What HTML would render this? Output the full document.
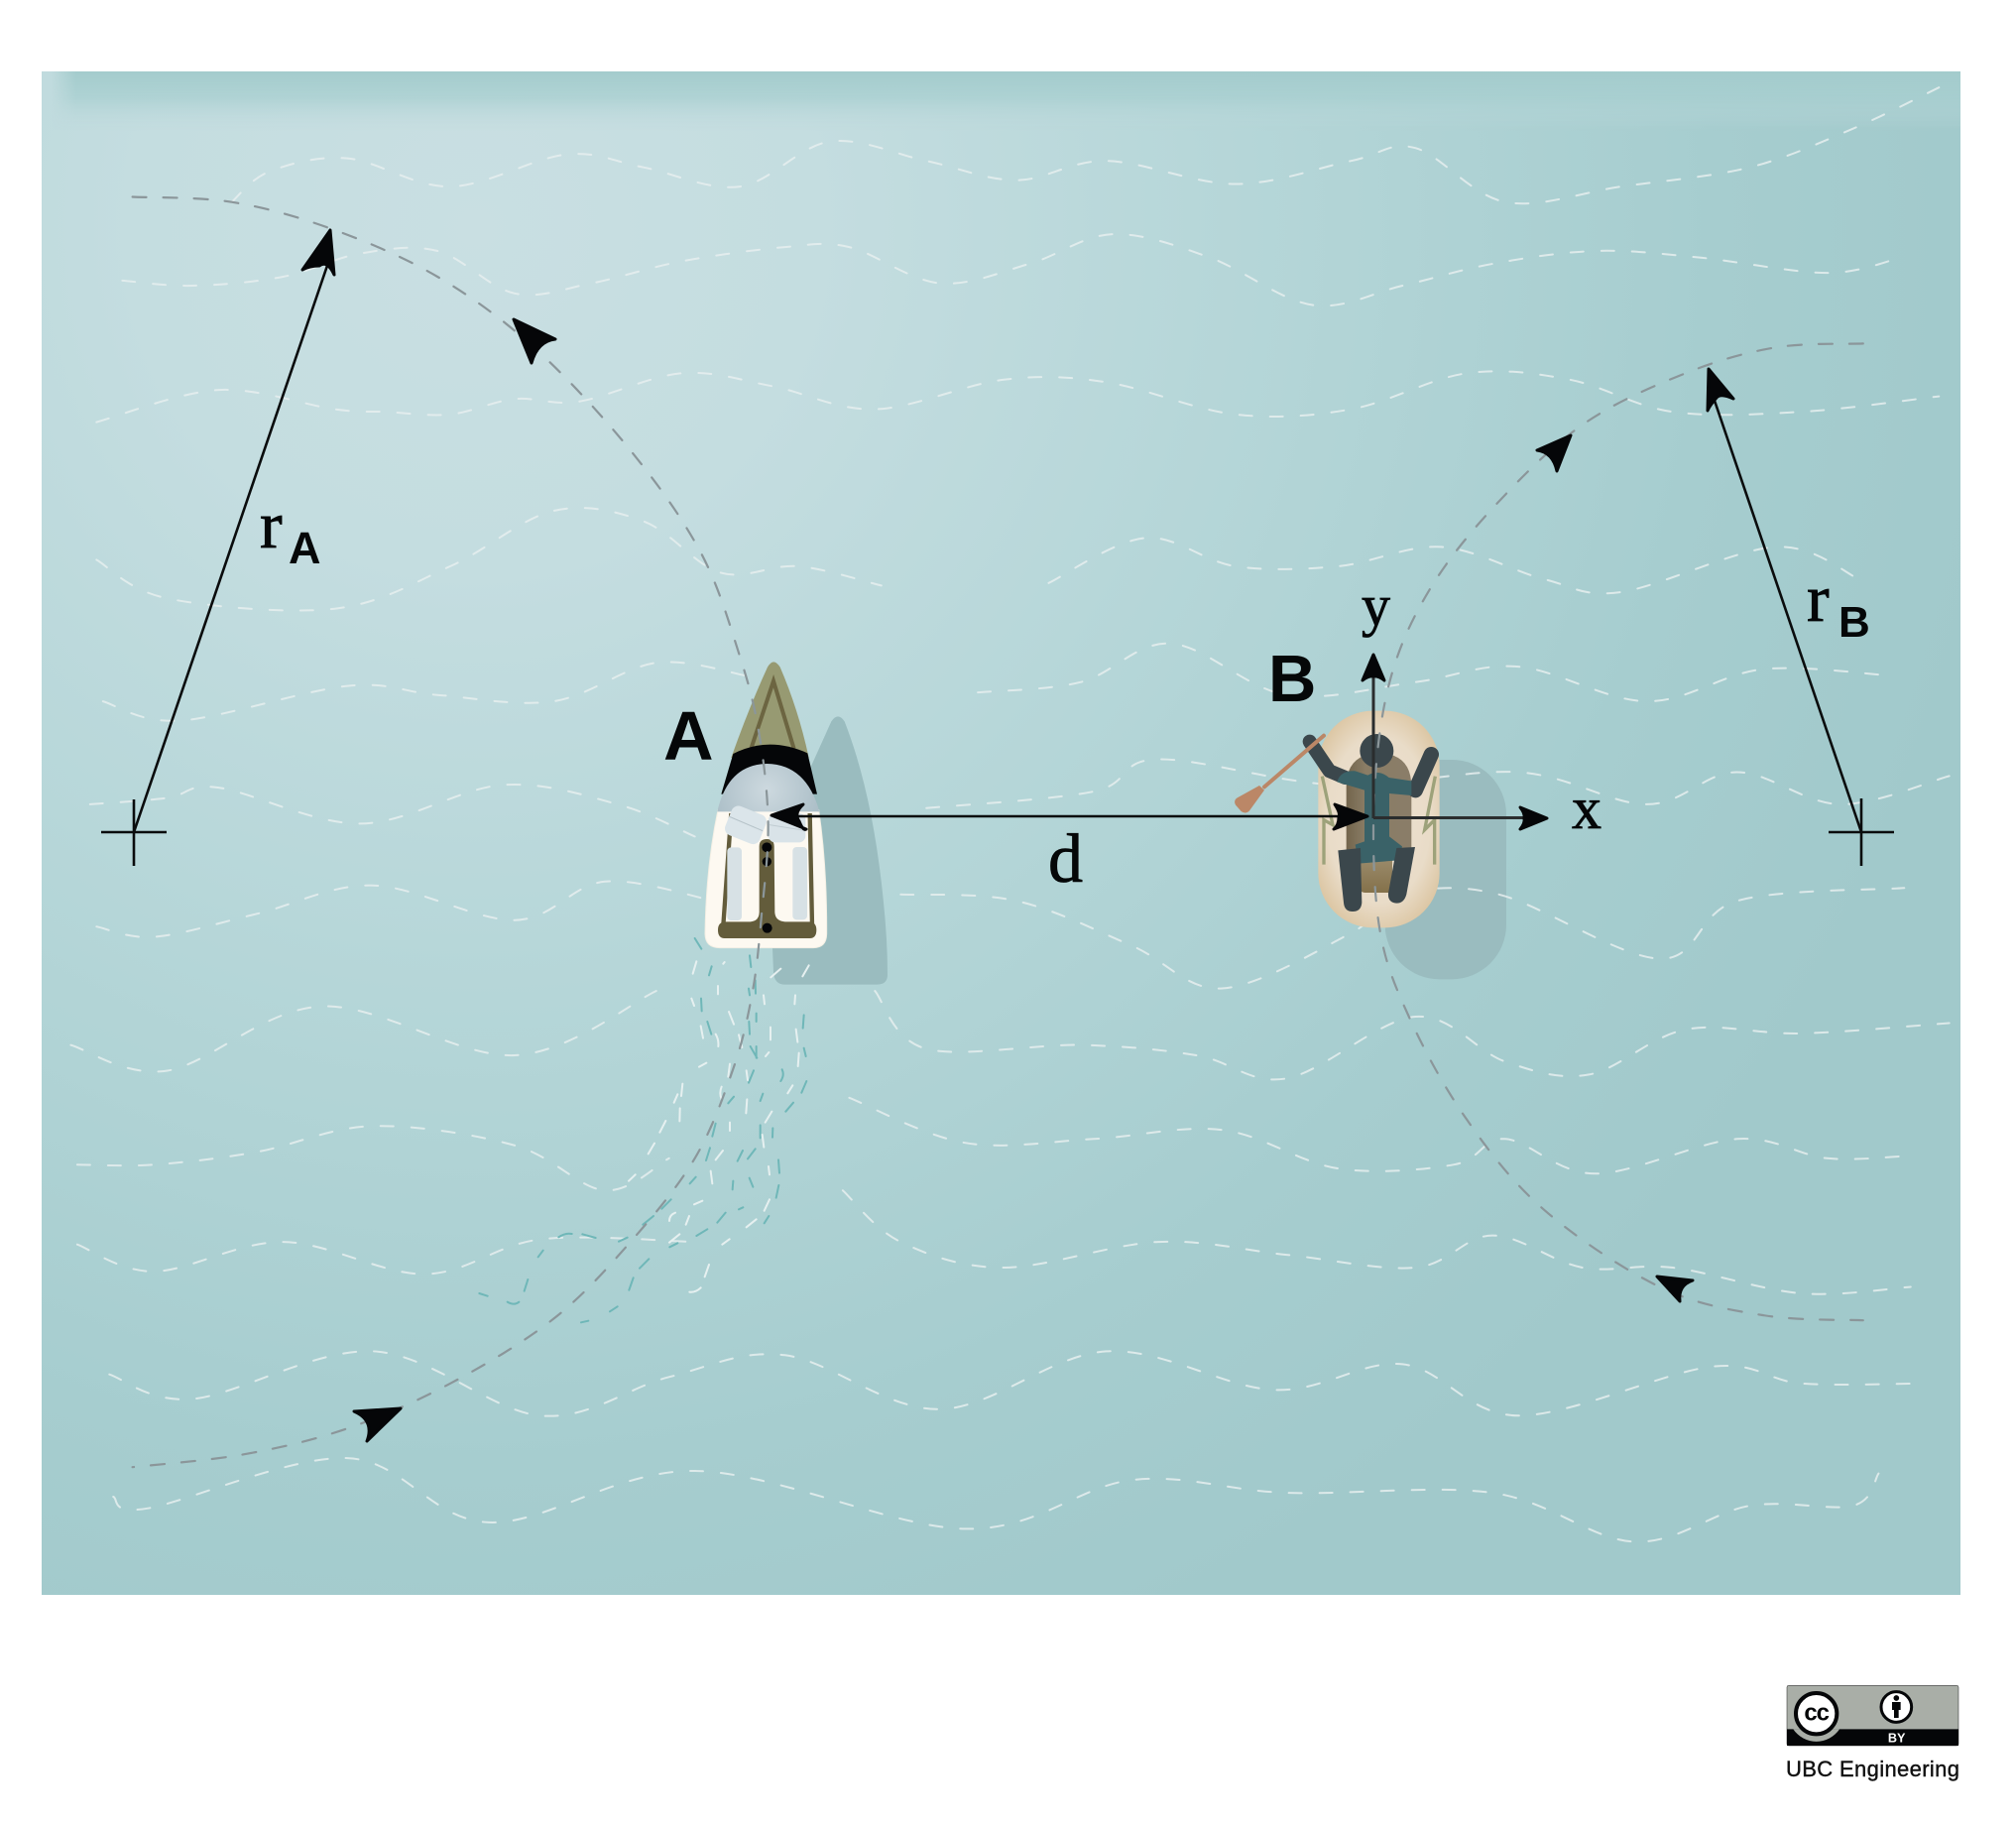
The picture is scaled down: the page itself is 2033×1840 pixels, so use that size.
<!DOCTYPE html>
<html lang="en">
<head>
<meta charset="utf-8">
<title>Two boats turning: relative motion diagram</title>
<style>
html,body{margin:0;padding:0;background:#fff}
svg{display:block}
.serif{font-family:"Liberation Serif",serif;fill:#050708;stroke:#050708;stroke-width:.8}
.sans{font-family:"Liberation Sans",sans-serif;fill:#050708;font-weight:bold}
</style>
</head>
<body>
<svg xmlns="http://www.w3.org/2000/svg" width="2033" height="1840" viewBox="0 0 2033 1840">
<defs>
<radialGradient id="seaGrad" gradientUnits="userSpaceOnUse" cx="480" cy="230" r="1560">
<stop offset="0" stop-color="#c9dfe2"/><stop offset=".22" stop-color="#c4dde0"/><stop offset=".5" stop-color="#b5d6d8"/><stop offset=".8" stop-color="#a6cdcf"/><stop offset="1" stop-color="#a1c9cb"/>
</radialGradient>
<linearGradient id="topGrad" x1="0" y1="0" x2="0" y2="1">
<stop offset="0" stop-color="#a3cbcc" stop-opacity="1"/><stop offset=".45" stop-color="#a8cfd0" stop-opacity=".75"/><stop offset="1" stop-color="#c0dadd" stop-opacity="0"/>
</linearGradient>
<linearGradient id="topFade" x1="0" y1="0" x2="1" y2="0">
<stop offset="0" stop-color="#000"/><stop offset=".005" stop-color="#000"/><stop offset=".018" stop-color="#fff"/><stop offset="1" stop-color="#fff"/>
</linearGradient>
<mask id="topMask"><rect x="42" y="72" width="1935" height="60" fill="url(#topFade)"/></mask>
<radialGradient id="domeGrad" gradientUnits="userSpaceOnUse" cx="370" cy="470" r="170">
<stop offset="0" stop-color="#cdd9df"/><stop offset="1" stop-color="#abbec7"/>
</radialGradient>
<radialGradient id="hullBGrad" gradientUnits="userSpaceOnUse" cx="512" cy="738" r="360" gradientTransform="translate(512 738) scale(.62 1) translate(-512 -738)">
<stop offset="0" stop-color="#ede1d1"/><stop offset=".7" stop-color="#e9dcc8"/><stop offset="1" stop-color="#dcc6a3"/>
</radialGradient>
<linearGradient id="innerBGrad" x1="0" y1="0" x2="1" y2="0">
<stop offset="0" stop-color="#73654c"/><stop offset=".3" stop-color="#8a7d66"/><stop offset="1" stop-color="#8a7d68"/>
</linearGradient>
<linearGradient id="footGrad" x1="0" y1="0" x2="0" y2="1">
<stop offset="0" stop-color="#9a8a6a"/><stop offset="1" stop-color="#84714a"/>
</linearGradient>
</defs>

<rect x="0" y="0" width="2033" height="1840" fill="#ffffff"/>
<rect x="42" y="72" width="1935" height="1536" fill="url(#seaGrad)"/>
<rect x="42" y="72" width="1935" height="60" fill="url(#topGrad)" mask="url(#topMask)"/>

<!-- boat shadows -->
<g transform="translate(650 640) scale(.33333)">
<path d="M565,262 Q585,232 605,262 Q690,480 722,800 Q735,920 735,1028 Q735,1058 703,1058 L425,1058 Q392,1058 390,1020 L385,900 L505,395 Z" fill="#9abcbf"/>
</g>
<g transform="translate(1220 580) scale(.33333)">
<rect x="530" y="558" width="367" height="664" rx="165" ry="165" fill="#9abcbf"/>
</g>

<g id="waves" fill="none" stroke="#e6efef" stroke-opacity=".85" stroke-width="2" stroke-dasharray="13 18" stroke-linecap="round"></g>

<!-- wake behind boat A -->
<g transform="translate(450 940) scale(.33333)" fill="none" stroke-linecap="round">
<path stroke="#6fb7b8" stroke-width="6" d="M752,18L772,50M803,103L795,130M918,70L922,105M935,145L936,185M915,170L918,190M771,200L773,238M790,270L802,308M938,245L938,270M916,270L918,308M920,345L940,380M938,345L938,380M930,418L915,455M1016,415Q1024,432 1012,450M958,488L950,510M870,497L853,517M1090,450L1075,485M1050,515L1027,542M1082,250L1079,290M1082,350L1088,375M815,578L805,617M950,583L950,622M988,592L987,620M798,652L786,690M897,660L881,692M935,655L912,685M1005,688L1008,728M755,740L737,760M868,752L866,778M917,743L928,770M1006,765L998,803M680,808L652,836M627,858L595,884M845,848L820,878M898,832L885,838M976,858L962,880M790,898L757,918M548,923L522,935M700,940L676,952M452,924L412,913M380,912Q360,908 340,922M293,962L278,982M613,988L585,1016M247,1050L236,1085M566,1045L553,1082M125,1100L100,1092M220,1118Q205,1130 185,1118M518,1132L495,1147M430,1175L408,1180"/>
<path stroke="#e6f0f0" stroke-width="6" d="M757,88L746,125M842,90L838,95M822,162L822,187M742,200L750,222M960,190L963,217M1056,190L1054,217M855,240L870,278M770,283L777,320M815,308Q825,325 823,345M885,310L895,348M981,287L981,325M1058,293L1063,332M1067,365L1064,405M976,363L966,375M787,395L765,407M858,398L853,437M908,418L912,447M715,458L711,495M700,490L689,515M833,467Q825,487 833,505M910,505L907,547M1048,463L1033,487M707,532L706,571M985,542L965,575M664,570L646,605M858,575L858,600M956,612L961,650M630,638L611,670M837,660L815,688M975,708L978,733M800,722L805,760M572,733L552,752M775,812L750,823M693,848Q675,855 675,873M735,858L725,884M978,808L962,842M938,868L908,892M706,913L675,938M857,928L835,944M795,1005L782,1042M770,1075Q755,1090 736,1088M1012,110L982,136M1097,100L1078,133"/>
</g>

<!-- Boat A -->
<g transform="translate(650 640) scale(.33333)">
<path d="M222,530 L527,530 Q552,700 551,905 Q550,947 510,947 L228,947 Q184,947 183,905 Q186,700 222,530 Z" fill="#fdf9f1" stroke="#f3efe4" stroke-width="3"/>
<path d="M372,98 Q390,66 410,98 Q465,225 497,372 L262,372 Q315,222 372,98 Z" fill="#979a72"/>
<path d="M322,345 L390,140 L452,345" fill="none" stroke="#6c6541" stroke-width="12"/>
<path d="M268,360 Q375,305 493,358 L522,482 L232,482 Z" fill="#050608"/>
<path d="M220,535 Q252,392 370,390 Q490,392 529,535 Z" fill="url(#domeGrad)"/>
<path d="M262,540 L238,880 M500,540 L507,880" fill="none" stroke="#635c3b" stroke-width="13"/>
<rect x="250" y="643" width="44" height="221" rx="12" fill="#d7e1e5"/>
<rect x="448" y="642" width="44" height="220" rx="12" fill="#d7e1e5"/>
<path d="M347,640 Q347,618 370,618 Q392,618 392,640 L394,840 Q396,866 425,868 L500,868 Q520,870 520,893 Q520,918 500,918 L242,918 Q222,918 222,893 Q222,870 242,868 L320,868 Q346,866 347,840 Z" fill="#635c3b"/>
<circle cx="370" cy="643" r="15" fill="#050608"/>
<circle cx="370" cy="686" r="14" fill="#050608"/>
<circle cx="371" cy="887" r="15" fill="#050608"/>
<g transform="rotate(22 305 575)">
<rect x="250" y="528" width="112" height="94" rx="22" fill="#dbe5ea"/>
<path d="M252,570 L360,572" stroke="#b6c3c9" stroke-width="3" fill="none"/>
</g>
<g>
<rect x="375" y="540" width="112" height="88" rx="20" fill="#d9e3e8"/>
<path d="M378,575 L486,592" stroke="#c0ccd2" stroke-width="3" fill="none"/>
</g>
</g>

<!-- Boat B -->
<g transform="translate(1220 580) scale(.33333)">
<rect x="328" y="410" width="367" height="656" rx="165" ry="165" fill="url(#hullBGrad)"/>
<path d="M413,640 Q413,540 512,538 Q610,540 610,640 L610,850 L413,850 Z" fill="url(#innerBGrad)"/>
<path d="M447,860 L552,860 L552,960 L470,960 Q447,958 447,930 Z" fill="url(#footGrad)"/>
<path d="M340,608 L372,755 L345,740 L345,875" fill="none" stroke="#9da27a" stroke-width="10"/>
<path d="M682,608 L650,770 L680,740 L680,875" fill="none" stroke="#9da27a" stroke-width="10"/>
<g>
<circle cx="505" cy="531" r="51" fill="#3b474c"/>
<path d="M302,503 L362,592 L410,612" fill="none" stroke="#3b474c" stroke-width="42" stroke-linecap="round" stroke-linejoin="round"/>
<path d="M670,542 L622,650" fill="none" stroke="#3b474c" stroke-width="46" stroke-linecap="round"/>
<path d="M385,625 Q395,590 440,592 L478,605 Q510,585 542,612 L610,622 L610,666 L543,660 L543,790 L582,820 L570,862 L450,872 L440,815 L468,805 L468,650 Z" fill="#3a6268"/>
<path d="M388,832 L456,825 L460,990 Q458,1017 432,1017 Q407,1017 405,990 Z" fill="#3b474c"/>
<path d="M565,825 L621,822 L595,965 Q588,992 565,992 Q538,990 540,962 Z" fill="#3b474c"/>
</g>
<path d="M345,485 L165,640" stroke="#bb8767" stroke-width="12" fill="none" stroke-linecap="round"/>
<path d="M150,636 L165,650 L120,712 Q108,724 95,714 L78,695 Q70,680 85,672 Z" fill="#bb8767"/>
</g>

<!-- travel paths -->
<g id="travel" fill="none" stroke="#8b969a" stroke-width="2.2" stroke-dasharray="14 17" stroke-linecap="round"></g>

<!-- vectors -->
<g>
<g stroke="#0a0c0d" stroke-width="2.6" fill="none">
<path d="M135,839 L332,262"/>
<path d="M1877,839 L1727,398"/>
<path d="M790,823 L1370,823"/>
<path d="M102,839 L168,839"/>
<path d="M135,806 L135,873"/>
<path d="M1844,839 L1910,839"/>
<path d="M1877,805 L1877,873"/>
<path d="M1385,824.5 L1540,824.5" stroke="#2a2d2e" stroke-width="3"/>
<path d="M1385,825 L1385,680" stroke="#2a2d2e" stroke-width="3"/>
</g>
<g fill="#050608" stroke="#050608" stroke-width="3" stroke-linejoin="round">
<path d="M333,232 L337,277 Q330,262 322,268 Q312,268 305,272 Z"/>
<path d="M1723,372 L1748,402 Q1735,396 1731,401 Q1724,409 1722,414 Z"/>
<path d="M778,822 L810,811 Q800,820 806,828 Q810,838 813,836 Z"/>
<path d="M1379,823 L1346,811 Q1352,820 1350,824 Q1350,832 1345,836 Z"/>
<path d="M1560,825 L1533,814 Q1538,820 1537,825 Q1538,830 1533,836 Z"/>
<path d="M1385,660 L1374,686 Q1380,681 1385,682 Q1390,681 1396,686 Z"/>
<path d="M518,322 L560,342 Q542,344 536,366 Z"/>
<path d="M404,1420 L357,1423 Q378,1432 370,1453 Z"/>
<path d="M1584,439 L1550,454 Q1566,456 1570,475 Z"/>
<path d="M1671,1287 L1707,1291 Q1692,1296 1694,1312 Z"/>
</g>
</g>

<!-- labels -->
<g>
<text class="sans" x="669" y="766" font-size="70">A</text>
<text class="sans" x="1279" y="707" font-size="67">B</text>
<text class="serif" x="1373" y="630" font-size="58">y</text>
<text class="serif" x="1585" y="835" font-size="60">x</text>
<text class="serif" x="1057" y="889" font-size="70">d</text>
<text class="serif" x="262" y="552" font-size="68">r</text>
<text class="sans" x="291" y="568" font-size="45">A</text>
<text class="serif" x="1822" y="626" font-size="68">r</text>
<text class="sans" x="1854" y="642" font-size="44">B</text>
</g>

<!-- license badge -->
<g transform="translate(1780 1680) scale(.33333)">
<rect x="66" y="58" width="519" height="182" rx="5" fill="#a9aea7" stroke="#222" stroke-width="1.5"/>
<path d="M66,190 L585,190 L585,240 L66,240 Z" fill="#050608"/>
<path d="M85,190 A84,84 0 0 0 225,190 Z" fill="#a9aea7"/>
<circle cx="155" cy="143" r="62" fill="#fff" stroke="#050608" stroke-width="12"/>
<text x="155" y="163" text-anchor="middle" font-size="72" font-family="Liberation Sans, sans-serif" font-weight="bold" letter-spacing="-3" fill="#050608">cc</text>
<circle cx="397" cy="123" r="46" fill="#fff" stroke="#050608" stroke-width="9"/>
<circle cx="397" cy="96" r="8.5" fill="#050608"/>
<path d="M384,108 L410,108 L410,132 L404,132 L404,156 L390,156 L390,132 L384,132 Z" fill="#050608"/>
<text x="398" y="230" text-anchor="middle" font-size="38" font-family="Liberation Sans, sans-serif" font-weight="bold" fill="#fff">BY</text>
</g>
<text x="1801" y="1791" font-size="22" font-family="Liberation Sans, sans-serif" fill="#111" stroke="#111" stroke-width=".4" textLength="175" lengthAdjust="spacing">UBC Engineering</text>
</svg>

<script>
var SCALE = 1.2975;
var waveLines = [
 [[180,157],[210,133],[270,123],[350,145],[440,120],[500,130],[575,145],[645,110],[720,125],[790,140],[860,125],[960,143],[1050,125],[1100,115],[1170,157],[1260,145],[1360,130],[1440,100],[1507,68]],
 [[95,218],[150,222],[220,215],[280,197],[340,195],[400,228],[460,220],[530,203],[610,192],[660,192],[730,220],[800,205],[865,182],[940,200],[1020,237],[1090,222],[1160,205],[1240,195],[1320,200],[1420,212],[1478,200]],
 [[75,328],[170,303],[260,318],[300,320],[350,322],[400,310],[450,312],[530,290],[600,300],[680,318],[780,295],[860,297],[960,322],[1050,318],[1140,290],[1220,295],[1300,320],[1400,320],[1507,308]],
 [[75,435],[130,465],[260,473],[350,440],[430,397],[500,405],[560,445],[620,440],[685,455]],
 [[815,453],[890,418],[960,440],[1040,440],[1120,425],[1200,450],[1260,460],[1380,425],[1445,450]],
 [[80,545],[140,560],[270,533],[340,540],[430,545],[510,515],[580,525]],
 [[760,538],[840,530],[910,500],[1000,540],[1100,530],[1180,518],[1280,545],[1370,520],[1470,525]],
 [[70,625],[130,620],[170,612],[280,640],[390,610],[480,625],[540,650]],
 [[720,628],[850,615],[900,590],[1040,610],[1180,600],[1280,625],[1350,600],[1430,625],[1515,603]],
 [[75,720],[120,728],[200,710],[290,688],[400,715],[470,685],[555,700]],
 [[700,695],[790,700],[880,735],[950,768],[1050,725],[1090,695],[1165,695],[1290,745],[1350,700],[1480,690]],
 [[55,812],[130,832],[250,782],[400,820],[510,770]],
 [[680,770],[720,815],[840,812],[930,820],[1000,838],[1100,790],[1170,825],[1235,835],[1310,800],[1400,803],[1515,795]],
 [[60,905],[120,905],[200,895],[290,875],[400,890],[470,925],[520,900]],
 [[660,853],[750,888],[850,885],[950,878],[1040,908],[1130,905],[1170,885],[1240,912],[1350,885],[1420,900],[1485,898]],
 [[60,967],[120,988],[220,965],[330,990],[420,963],[540,965]],
 [[655,925],[700,965],[780,985],[900,965],[1000,975],[1100,985],[1160,960],[1230,985],[1300,985],[1400,1005],[1485,1000]],
 [[85,1068],[150,1087],[290,1050],[420,1100],[520,1070],[610,1053],[730,1095],[860,1050],[990,1080],[1090,1060],[1180,1100],[1330,1062],[1400,1075],[1495,1075]],
 [[88,1163],[115,1172],[270,1133],[380,1183],[540,1143],[750,1188],[880,1150],[1000,1160],[1160,1160],[1270,1198],[1360,1170],[1440,1170],[1460,1145]]
];
var travelLines = [
 [[103,153],[180,157],[258,178],[340,215],[415,270],[490,350],[545,430],[575,510],[590,570],[597,640],[592,710],[585,770],[570,830],[540,900],[490,965],[430,1025],[350,1075],[270,1110],[190,1130],[103,1140]],
 [[1448,267],[1380,270],[1310,290],[1230,330],[1160,395],[1110,460],[1080,530],[1068,620],[1072,720],[1095,790],[1140,870],[1200,940],[1290,1000],[1370,1022],[1448,1026]]
];
function smoothPath(points) {
  var p = points.map(function (q) { return [q[0] * SCALE, q[1] * SCALE]; });
  var d = 'M' + p[0][0].toFixed(1) + ',' + p[0][1].toFixed(1);
  for (var i = 0; i < p.length - 1; i++) {
    var a = p[Math.max(i - 1, 0)], b = p[i], c = p[i + 1], e = p[Math.min(i + 2, p.length - 1)];
    d += 'C' + (b[0] + (c[0] - a[0]) / 6).toFixed(1) + ',' + (b[1] + (c[1] - a[1]) / 6).toFixed(1) +
         ' ' + (c[0] - (e[0] - b[0]) / 6).toFixed(1) + ',' + (c[1] - (e[1] - b[1]) / 6).toFixed(1) +
         ' ' + c[0].toFixed(1) + ',' + c[1].toFixed(1);
  }
  return d;
}
var NS = 'http://www.w3.org/2000/svg';
var waveGroup = document.getElementById('waves');
waveLines.forEach(function (line) {
  var el = document.createElementNS(NS, 'path');
  el.setAttribute('d', smoothPath(line));
  
  
  waveGroup.appendChild(el);
});
var travelGroup = document.getElementById('travel');
travelLines.forEach(function (line) {
  var el = document.createElementNS(NS, 'path');
  el.setAttribute('d', smoothPath(line));
  
  
  travelGroup.appendChild(el);
});
</script>
</body>
</html>
